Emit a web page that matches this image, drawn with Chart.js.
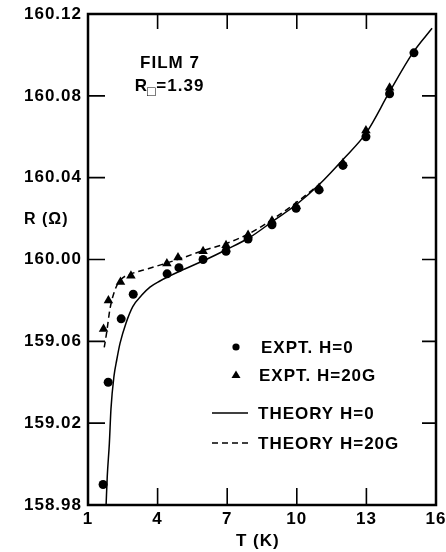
<!DOCTYPE html>
<html>
<head>
<meta charset="utf-8">
<script src="https://cdn.jsdelivr.net/npm/chart.js@4.4.1/dist/chart.umd.min.js"></script>
<style>
  html, body { margin: 0; padding: 0; background: #fff; }
  #wrap { width: 446px; height: 552px; }
</style>
</head>
<body>
<div id="wrap"><canvas id="chart" width="446" height="552"></canvas></div>
<script>
// resistance vs temperature, film 7
const exptH0T = [1.65, 1.87, 2.43, 2.95, 4.41, 4.92, 5.96, 6.95, 7.9, 8.93, 9.97, 10.96, 11.99, 12.98, 14.0, 15.05];
const exptH0R = [159.890, 159.940, 159.971, 159.983, 159.993, 159.996, 160.000, 160.004, 160.010, 160.017, 160.025, 160.034, 160.046, 160.060, 160.081, 160.101];

const exptH20T = [1.67, 1.88, 2.4, 2.85, 4.4, 4.88, 5.96, 6.95, 7.9, 8.93, 9.97, 10.96, 11.99, 12.98, 14.0];
const exptH20R = [159.966, 159.980, 159.989, 159.992, 159.998, 160.001, 160.004, 160.007, 160.012, 160.019, 160.026, 160.035, 160.047, 160.063, 160.084];

const theoryH0T = [1.78, 1.83, 1.92, 1.99, 2.12, 2.24, 2.38, 2.64, 2.93, 3.31, 3.67, 4.1, 4.53, 5, 6, 7, 8, 9, 10, 11, 12, 13, 14, 15, 15.83];
const theoryH0R = [159.880, 159.894, 159.910, 159.927, 159.943, 159.951, 159.959, 159.969, 159.977, 159.9825, 159.9865, 159.9895, 159.992, 159.9945, 159.9995, 160.005, 160.011, 160.019, 160.027, 160.037, 160.049, 160.062, 160.082, 160.101, 160.113];

const theoryH20T = [1.70, 1.80, 1.95, 2.16, 2.40, 2.87, 3.59, 4.45, 5, 6, 7, 8, 9, 10, 11];
const theoryH20R = [159.957, 159.964, 159.976, 159.985, 159.990, 159.993, 159.9955, 159.9985, 160.0005, 160.0045, 160.008, 160.013, 160.020, 160.028, 160.037];

const xMin = 1, xMax = 16, xStep = 3;
const yMin = 159.88, yMax = 160.12, yStep = 0.04;
const yTickLabels = ["158.98", "159.02", "159.06", "160.00", "160.04", "160.08", "160.12"];
const legendLabels = ["EXPT. H=0", "EXPT. H=20G", "THEORY H=0", "THEORY H=20G"];

const FONT = "'Liberation Sans', Arial, sans-serif";

function toPoints(xs, ys) {
  return xs.map((x, i) => ({ x, y: ys[i] }));
}

const near = (a, b) => Math.abs(a - b) < 1e-6;

const decor = {
  id: "decor",
  beforeDraw(chart) {
    chart.ctx.letterSpacing = "1px";
  },
  afterDraw(chart) {
    const { ctx, chartArea: a, scales: { x, y } } = chart;
    ctx.save();
    ctx.strokeStyle = "#000";
    ctx.fillStyle = "#000";

    // inward ticks on all four sides
    ctx.lineWidth = 1.6;
    ctx.beginPath();
    x.ticks.forEach(t => {
      if (near(t.value, x.min) || near(t.value, x.max)) return;
      const px = x.getPixelForValue(t.value);
      ctx.moveTo(px, a.bottom); ctx.lineTo(px, a.bottom - 17);
      ctx.moveTo(px, a.top); ctx.lineTo(px, a.top + 15);
    });
    y.ticks.forEach(t => {
      if (near(t.value, y.min) || near(t.value, y.max)) return;
      const py = y.getPixelForValue(t.value);
      ctx.moveTo(a.left, py); ctx.lineTo(a.left + 17, py);
      ctx.moveTo(a.right, py); ctx.lineTo(a.right - 14, py);
    });
    ctx.stroke();

    ctx.lineWidth = 2.5;
    ctx.strokeRect(a.left, a.top, a.right - a.left, a.bottom - a.top);

    // annotation
    ctx.textBaseline = "alphabetic";
    ctx.textAlign = "left";
    ctx.font = "bold 17px " + FONT;
    const film = "FILM 7";
    ctx.fillText(film, 170 - ctx.measureText(film).width / 2, 68);

    const rW = ctx.measureText("R").width;
    const eqW = ctx.measureText("=1.39").width;
    ctx.font = "bold 14px " + FONT;
    const sqW = ctx.measureText("\u25A1").width;
    let tx = 170 - (rW + sqW + eqW) / 2;
    ctx.font = "bold 17px " + FONT;
    ctx.fillText("R", tx, 91);
    ctx.font = "bold 14px " + FONT;
    ctx.fillText("\u25A1", tx + rW - 1, 96);
    ctx.font = "bold 17px " + FONT;
    ctx.fillText("=1.39", tx + rW + sqW - 1, 91);

    // axis titles
    ctx.font = "bold 16px " + FONT;
    ctx.fillText("R (\u03A9)", 24, 224);
    ctx.font = "bold 17px " + FONT;
    ctx.fillText("T (K)", 236, 546);

    // legend
    ctx.textBaseline = "middle";
    const rows = [347, 375, 413, 443];
    ctx.beginPath();
    ctx.arc(236, rows[0], 3.6, 0, Math.PI * 2);
    ctx.fill();
    ctx.beginPath();
    ctx.moveTo(236, rows[1] - 4.5);
    ctx.lineTo(240.5, rows[1] + 3);
    ctx.lineTo(231.5, rows[1] + 3);
    ctx.closePath();
    ctx.fill();
    ctx.lineWidth = 1.5;
    ctx.beginPath();
    ctx.moveTo(212, rows[2]); ctx.lineTo(248, rows[2]);
    ctx.stroke();
    ctx.setLineDash([6, 4]);
    ctx.beginPath();
    ctx.moveTo(212, rows[3]); ctx.lineTo(248, rows[3]);
    ctx.stroke();
    ctx.setLineDash([]);

    ctx.font = "bold 17px " + FONT;
    ctx.fillText(legendLabels[0], 261, rows[0] + 1);
    ctx.fillText(legendLabels[1], 259, rows[1] + 1);
    ctx.fillText(legendLabels[2], 258, rows[2] + 1);
    ctx.fillText(legendLabels[3], 258, rows[3] + 1);
    ctx.restore();
  }
};

new Chart(document.getElementById("chart"), {
  type: "scatter",
  data: {
    datasets: [
      {
        label: legendLabels[0],
        data: toPoints(exptH0T, exptH0R),
        pointStyle: "circle",
        pointRadius: 4.5,
        backgroundColor: "#000",
        borderColor: "#000",
        borderWidth: 0,
      },
      {
        label: legendLabels[1],
        data: toPoints(exptH20T, exptH20R),
        pointStyle: "triangle",
        pointRadius: 5.5,
        backgroundColor: "#000",
        borderColor: "#000",
        borderWidth: 0,
      },
      {
        label: legendLabels[2],
        data: toPoints(theoryH0T, theoryH0R),
        showLine: true,
        pointRadius: 0,
        borderColor: "#000",
        borderWidth: 1.5,
        cubicInterpolationMode: "monotone",
      },
      {
        label: legendLabels[3],
        data: toPoints(theoryH20T, theoryH20R),
        showLine: true,
        pointRadius: 0,
        borderColor: "#000",
        borderWidth: 1.5,
        borderDash: [6, 4],
        cubicInterpolationMode: "monotone",
      },
    ],
  },
  options: {
    responsive: false,
    devicePixelRatio: 1,
    animation: false,
    layout: { padding: 0 },
    plugins: {
      legend: { display: false },
      tooltip: { enabled: false },
    },
    scales: {
      x: {
        type: "linear",
        min: xMin,
        max: xMax,
        grid: { display: false, drawTicks: false },
        border: { display: false },
        ticks: {
          stepSize: xStep,
          padding: 4,
          color: "#000",
          font: { family: FONT, size: 17, weight: "bold" },
          maxRotation: 0,
          callback: v => String(v),
        },
        afterFit: s => {
          s.height = 47;
          s.paddingLeft = 0;
          s.paddingRight = 10;
        },
      },
      y: {
        type: "linear",
        min: yMin,
        max: yMax,
        grid: { display: false, drawTicks: false },
        border: { display: false },
        ticks: {
          stepSize: yStep,
          padding: 6,
          color: "#000",
          font: { family: FONT, size: 17, weight: "bold" },
          callback: v => yTickLabels[Math.round((v - yMin) / yStep)],
        },
        afterFit: s => {
          s.width = 88;
          s.paddingTop = 14;
          s.paddingBottom = 0;
        },
      },
    },
  },
  plugins: [decor],
});
</script>
</body>
</html>
